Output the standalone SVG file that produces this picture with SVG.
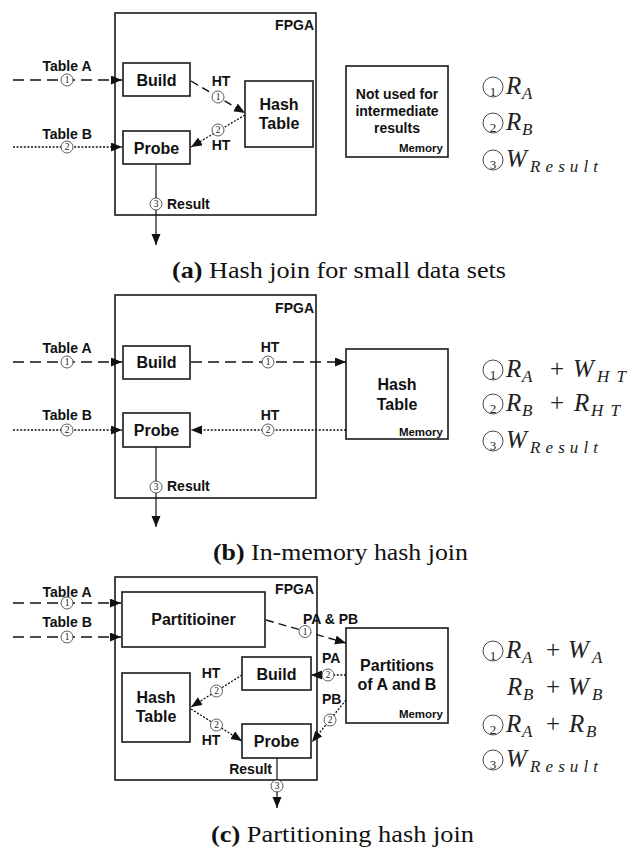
<svg xmlns="http://www.w3.org/2000/svg" width="635" height="849" viewBox="0 0 635 849">
<defs>
<style>
.box{fill:#fff;stroke:#1a1a1a;stroke-width:1.6}
.lbl{font-family:"Liberation Sans",Arial,sans-serif;font-weight:bold;fill:#111;font-size:14px}
.big{font-size:16px}
.mem{font-size:11.5px}
.mid{text-anchor:middle}
.end{text-anchor:end}
.dash{stroke:#111;stroke-width:1.5;stroke-dasharray:11 6;fill:none}
.dash2{stroke:#111;stroke-width:1.4;stroke-dasharray:8 5;fill:none}
.dot{stroke:#111;stroke-width:1.3;stroke-dasharray:2 1.6;fill:none}
.solid{stroke:#111;stroke-width:1.2;fill:none}
.sc{fill:#fff;stroke:#333;stroke-width:0.8}
.sd{font-family:"Liberation Serif",serif;font-size:9.5px;text-anchor:middle;fill:#222}
.m{font-family:"Liberation Serif",serif;font-style:italic;font-size:25px;fill:#222}
.s{font-family:"Liberation Serif",serif;font-style:italic;font-size:17px;fill:#222}
.p{font-family:"Liberation Serif",serif;font-size:25px;fill:#222;text-anchor:middle}
.bc{fill:none;stroke:#333;stroke-width:0.9}
.bd{font-family:"Liberation Serif",serif;font-size:13px;text-anchor:middle;fill:#222}
.cap{font-family:"Liberation Serif",serif;font-size:23px;fill:#111}
</style>
<marker id="ah" markerUnits="userSpaceOnUse" viewBox="0 0 12 10" markerWidth="12" markerHeight="10" refX="11" refY="4.5" orient="auto">
<path d="M0,0 L11,4.5 L0,9 z" fill="#111"/>
</marker>
</defs>
<rect width="635" height="849" fill="#fff"/>

<!-- ========== Panel (a) ========== -->
<g id="a-fpga"><rect class="box" x="115" y="13" width="201" height="202"/><text class="lbl end" x="314" y="30">FPGA</text></g>
<g id="a-build"><rect class="box" x="123" y="63" width="67" height="33"/><text class="lbl big mid" x="156.5" y="86">Build</text></g>
<g id="a-probe"><rect class="box" x="123" y="131" width="67" height="33"/><text class="lbl big mid" x="156.5" y="154">Probe</text></g>
<g id="a-hashtable"><rect class="box" x="245" y="81" width="68" height="66"/><text class="lbl big mid" x="279" y="110">Hash</text><text class="lbl big mid" x="279" y="129">Table</text></g>
<g id="a-memory"><rect class="box" x="346" y="66" width="102" height="91"/><text class="lbl mid" x="397" y="99">Not used for</text><text class="lbl mid" x="397" y="116">intermediate</text><text class="lbl mid" x="397" y="133">results</text><text class="lbl mem end" x="443" y="152">Memory</text></g>

<!-- ========== Panel (b) ========== -->
<g id="b-fpga"><rect class="box" x="115" y="295" width="201" height="203"/><text class="lbl end" x="314" y="313">FPGA</text></g>
<g id="b-build"><rect class="box" x="123" y="346" width="67" height="33"/><text class="lbl big mid" x="156.5" y="368">Build</text></g>
<g id="b-probe"><rect class="box" x="123" y="413" width="67" height="34"/><text class="lbl big mid" x="156.5" y="436">Probe</text></g>
<g id="b-memory"><rect class="box" x="346" y="349" width="102" height="90"/><text class="lbl big mid" x="397" y="390">Hash</text><text class="lbl big mid" x="397" y="410">Table</text><text class="lbl mem end" x="443" y="436">Memory</text></g>

<!-- ========== Panel (c) ========== -->
<g id="c-fpga"><rect class="box" x="115" y="577" width="202" height="203"/><text class="lbl end" x="314" y="594">FPGA</text></g>
<g id="c-partitioner"><rect class="box" x="122" y="592" width="143" height="55"/><text class="lbl big mid" x="193.5" y="625">Partitioiner</text></g>
<g id="c-build"><rect class="box" x="242" y="657" width="69" height="33"/><text class="lbl big mid" x="276.5" y="680">Build</text></g>
<g id="c-probe"><rect class="box" x="242" y="724" width="69" height="34"/><text class="lbl big mid" x="276.5" y="747">Probe</text></g>
<g id="c-hashtable"><rect class="box" x="122" y="673" width="68" height="69"/><text class="lbl big mid" x="156" y="703">Hash</text><text class="lbl big mid" x="156" y="722">Table</text></g>
<g id="c-memory"><rect class="box" x="346" y="628" width="102" height="95"/><text class="lbl big mid" x="397" y="671">Partitions</text><text class="lbl big mid" x="397" y="690">of A and B</text><text class="lbl mem end" x="443" y="718">Memory</text></g>

<!-- ========== Connectors ========== -->
<g id="connectors">
<!-- (a) -->
<line class="dash" x1="13" y1="80" x2="122" y2="80" marker-end="url(#ah)"/>
<line class="dot" x1="13" y1="147" x2="122" y2="147" marker-end="url(#ah)"/>
<line class="dash2" x1="191" y1="81" x2="245" y2="113" marker-end="url(#ah)"/>
<line class="dot" x1="245" y1="115" x2="191" y2="147" marker-end="url(#ah)"/>
<line class="solid" x1="156" y1="165" x2="156" y2="245" marker-end="url(#ah)"/>
<!-- (b) -->
<line class="dash" x1="13" y1="362" x2="122" y2="362" marker-end="url(#ah)"/>
<line class="dot" x1="13" y1="430" x2="122" y2="430" marker-end="url(#ah)"/>
<line class="dash" x1="191" y1="362" x2="346" y2="362" marker-end="url(#ah)"/>
<line class="dot" x1="346" y1="430" x2="191" y2="430" marker-end="url(#ah)"/>
<line class="solid" x1="156" y1="447" x2="156" y2="527" marker-end="url(#ah)"/>
<!-- (c) -->
<line class="dash" x1="13" y1="603" x2="121" y2="603" marker-end="url(#ah)"/>
<line class="dash" x1="13" y1="637" x2="121" y2="637" marker-end="url(#ah)"/>
<line class="dash2" x1="266" y1="620" x2="346" y2="643" marker-end="url(#ah)"/>
<line class="dot" x1="346" y1="675" x2="311" y2="675" marker-end="url(#ah)"/>
<line class="dot" x1="346" y1="700" x2="312" y2="742" marker-end="url(#ah)"/>
<line class="dot" x1="242" y1="675" x2="191" y2="707" marker-end="url(#ah)"/>
<line class="dot" x1="191" y1="709" x2="242" y2="741" marker-end="url(#ah)"/>
<line class="solid" x1="277" y1="758" x2="277" y2="808" marker-end="url(#ah)"/>

<!-- circled numbers on connectors -->
<circle class="sc" cx="67" cy="80" r="6"/><text class="sd" x="67" y="83.3">1</text>
<circle class="sc" cx="67" cy="147" r="6"/><text class="sd" x="67" y="150.3">2</text>
<circle class="sc" cx="218" cy="97" r="6"/><text class="sd" x="218" y="100.3">1</text>
<circle class="sc" cx="218" cy="130" r="6"/><text class="sd" x="218" y="133.3">2</text>
<circle class="sc" cx="156" cy="204" r="6"/><text class="sd" x="156" y="207.3">3</text>

<circle class="sc" cx="67" cy="362" r="6"/><text class="sd" x="67" y="365.3">1</text>
<circle class="sc" cx="67" cy="430" r="6"/><text class="sd" x="67" y="433.3">2</text>
<circle class="sc" cx="268" cy="362" r="6"/><text class="sd" x="268" y="365.3">1</text>
<circle class="sc" cx="268" cy="430" r="6"/><text class="sd" x="268" y="433.3">2</text>
<circle class="sc" cx="156" cy="487" r="6"/><text class="sd" x="156" y="490.3">3</text>

<circle class="sc" cx="67" cy="603" r="6"/><text class="sd" x="67" y="606.3">1</text>
<circle class="sc" cx="67" cy="637" r="6"/><text class="sd" x="67" y="640.3">1</text>
<circle class="sc" cx="305" cy="631.5" r="6"/><text class="sd" x="305" y="634.8">1</text>
<circle class="sc" cx="328" cy="675" r="6"/><text class="sd" x="328" y="678.3">2</text>
<circle class="sc" cx="330" cy="720" r="6"/><text class="sd" x="330" y="723.3">2</text>
<circle class="sc" cx="216.5" cy="691" r="6"/><text class="sd" x="216.5" y="694.3">2</text>
<circle class="sc" cx="216.5" cy="725" r="6"/><text class="sd" x="216.5" y="728.3">2</text>
<circle class="sc" cx="277" cy="786" r="6"/><text class="sd" x="277" y="789.3">3</text>

<!-- connector labels -->
<text class="lbl mid" x="67" y="71">Table A</text>
<text class="lbl mid" x="67" y="139">Table B</text>
<text class="lbl mid" x="221" y="86">HT</text>
<text class="lbl mid" x="221" y="150">HT</text>
<text class="lbl" x="167" y="209">Result</text>

<text class="lbl mid" x="67" y="353">Table A</text>
<text class="lbl mid" x="67" y="420">Table B</text>
<text class="lbl mid" x="270" y="352">HT</text>
<text class="lbl mid" x="270" y="420">HT</text>
<text class="lbl" x="167" y="491">Result</text>

<text class="lbl mid" x="67" y="596.5">Table A</text>
<text class="lbl mid" x="67" y="626.5">Table B</text>
<text class="lbl" x="303" y="624">PA &amp; PB</text>
<text class="lbl" x="322" y="663">PA</text>
<text class="lbl" x="322" y="704">PB</text>
<text class="lbl mid" x="211" y="678">HT</text>
<text class="lbl mid" x="211" y="745">HT</text>
<text class="lbl end" x="272" y="774">Result</text>
</g>

<!-- ========== Cost formulas ========== -->
<g id="a-costs">
<circle class="bc" cx="493" cy="87" r="10"/><text class="bd" x="493" y="95.5">1</text>
<text class="m" x="506" y="94">R</text><text class="s" x="522" y="99">A</text>
<circle class="bc" cx="493" cy="123" r="10"/><text class="bd" x="493" y="131.5">2</text>
<text class="m" x="506" y="130">R</text><text class="s" x="522" y="135">B</text>
<circle class="bc" cx="493" cy="160" r="10"/><text class="bd" x="493" y="168.5">3</text>
<text class="m" x="506" y="167">W</text><text class="s" x="530" y="172" textLength="68" lengthAdjust="spacing">Result</text>
</g>
<g id="b-costs">
<circle class="bc" cx="493" cy="370" r="10"/><text class="bd" x="493" y="378.5">1</text>
<text class="m" x="506" y="377">R</text><text class="s" x="522" y="382">A</text>
<text class="p" x="557" y="377">+</text>
<text class="m" x="573" y="377">W</text><text class="s" x="597" y="382" textLength="29" lengthAdjust="spacing">HT</text>
<circle class="bc" cx="493" cy="404" r="10"/><text class="bd" x="493" y="412.5">2</text>
<text class="m" x="506" y="411">R</text><text class="s" x="522" y="416">B</text>
<text class="p" x="557" y="411">+</text>
<text class="m" x="574" y="411">R</text><text class="s" x="591" y="416" textLength="29" lengthAdjust="spacing">HT</text>
<circle class="bc" cx="493" cy="441" r="10"/><text class="bd" x="493" y="449.5">3</text>
<text class="m" x="506" y="448">W</text><text class="s" x="530" y="453" textLength="68" lengthAdjust="spacing">Result</text>
</g>
<g id="c-costs">
<circle class="bc" cx="493" cy="651" r="10"/><text class="bd" x="493" y="659.5">1</text>
<text class="m" x="506" y="658">R</text><text class="s" x="522" y="663">A</text>
<text class="p" x="553" y="658">+</text>
<text class="m" x="568" y="658">W</text><text class="s" x="592" y="663">A</text>
<text class="m" x="507" y="695">R</text><text class="s" x="523" y="700">B</text>
<text class="p" x="553" y="695">+</text>
<text class="m" x="568" y="695">W</text><text class="s" x="592" y="700">B</text>
<circle class="bc" cx="493" cy="725" r="10"/><text class="bd" x="493" y="733.5">2</text>
<text class="m" x="506" y="732">R</text><text class="s" x="522" y="737">A</text>
<text class="p" x="553" y="732">+</text>
<text class="m" x="569" y="732">R</text><text class="s" x="586" y="737">B</text>
<circle class="bc" cx="493" cy="760" r="10"/><text class="bd" x="493" y="768.5">3</text>
<text class="m" x="506" y="767">W</text><text class="s" x="530" y="772" textLength="68" lengthAdjust="spacing">Result</text>
</g>

<!-- ========== Captions ========== -->
<g id="captions">
<text class="cap" x="172" y="278" textLength="334" lengthAdjust="spacingAndGlyphs"><tspan font-weight="bold">(a)</tspan> Hash join for small data sets</text>
<text class="cap" x="213" y="560" textLength="255" lengthAdjust="spacingAndGlyphs"><tspan font-weight="bold">(b)</tspan> In-memory hash join</text>
<text class="cap" x="211" y="842" textLength="263" lengthAdjust="spacingAndGlyphs"><tspan font-weight="bold">(c)</tspan> Partitioning hash join</text>
</g>
</svg>
